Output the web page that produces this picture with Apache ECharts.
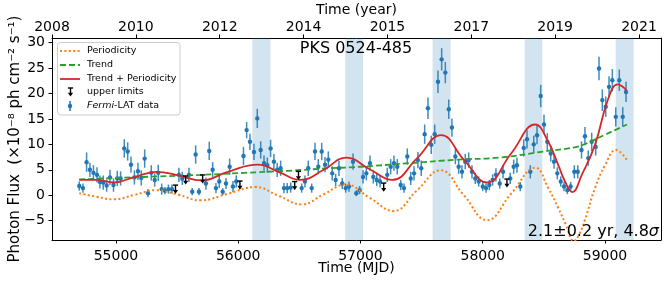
<!DOCTYPE html>
<html><head><meta charset="utf-8">
<script src="https://cdn.jsdelivr.net/npm/echarts@6/dist/echarts.min.js"></script>
<style>html,body{margin:0;padding:0;background:#fff}#c{width:667px;height:282px}</style>
</head><body><div id="c"></div>
<script>
// ---- data ----
const mjd = [54700,54730,54760,54787,54816,54845,54869,54896,54924,54951,
 54980,55011,55038,55068,55096,55123,55151,55180,55207,55235,
 55262,55289,55317,55346,55374,55401,55429,55458,55515,55542,
 55597,55624,55652,55679,55736,55763,55791,55818,55845,55873,
 55900,55930,55957,55984,56043,56069,56096,56129,56156,56184,
 56211,56238,56265,56292,56319,56347,56374,56401,56429,56519,
 56546,56573,56601,56628,56655,56683,56710,56737,56769,56797,
 56824,56851,56879,56906,56939,56966,56993,57021,57048,57078,
 57105,57133,57160,57219,57247,57274,57301,57329,57356,57383,
 57411,57438,57470,57497,57525,57552,57579,57607,57634,57664,
 57694,57722,57748,57776,57803,57830,57857,57885,57912,57939,
 57967,58000,58027,58054,58081,58108,58139,58166,58225,58253,
 58280,58307,58335,58362,58389,58417,58444,58474,58501,58528,
 58556,58583,58610,58638,58665,58692,58719,58749,58777,58808,
 58836,58863,58891,58924,58951,58978,59006,59033,59060,59088,
 59117,59145,59172];
const flux = [1.8,1.4,6.5,5.0,4.4,4.0,2.6,2.5,1.9,3.5,
 2.0,3.3,3.3,9.2,8.6,6.0,3.5,4.7,3.4,7.2,
 0.4,4.4,3.0,4.4,1.2,0.9,1.2,1.2,4.0,3.3,
 4.0,0.7,8.0,0.7,2.3,8.7,5.0,1.4,2.7,0.7,
 2.3,5.6,1.7,2.7,7.7,12.8,10.5,8.5,15.1,8.9,
 6.3,5.9,9.2,6.6,5.0,5.3,1.4,1.4,1.5,1.4,
 2.7,5.3,1.4,8.6,5.6,8.6,6.0,7.0,4.3,3.0,
 5.3,2.3,1.4,1.7,6.6,0.4,1.0,3.6,4.3,6.3,
 3.6,3.0,2.7,4.0,5.6,6.3,5.6,2.0,1.4,7.6,
 3.3,4.3,6.9,5.3,12.0,17.1,9.9,12.0,22.3,26.7,
 24.1,16.9,13.3,7.6,5.6,4.6,6.6,6.9,4.6,3.3,
 2.7,1.7,1.4,2.0,3.0,4.0,2.3,4.6,3.3,5.6,
 5.9,1.7,9.3,11.0,4.6,10.0,11.8,19.5,13.9,10.5,
 8.2,6.6,4.3,2.7,1.7,1.0,1.7,4.6,4.6,8.9,
 11.6,7.3,10.5,9.5,24.9,18.7,17.4,21.3,22.6,15.4,
 22.6,15.4,20.3];
const fluxErr = [0.9,0.9,1.9,1.4,1.5,1.5,1.3,1.4,1.2,1.5,
 1.3,1.5,1.4,1.8,1.8,1.6,1.4,1.7,1.5,1.8,
 0.8,1.5,1.3,1.6,1.1,0.7,0.9,0.9,1.4,1.3,
 1.4,0.7,1.8,0.7,1.2,1.8,1.5,1.0,1.3,0.7,
 1.1,1.6,1.1,1.2,1.8,1.6,1.6,1.6,1.9,1.7,
 1.5,1.5,1.7,1.5,1.4,1.5,1.0,1.0,1.0,0.9,
 1.2,1.5,0.9,1.7,1.5,1.7,1.5,1.6,1.4,1.2,
 1.5,1.1,0.9,1.0,1.6,0.6,0.8,1.3,1.4,1.5,
 1.3,1.2,1.2,1.4,1.5,1.5,1.5,1.0,0.9,1.6,
 1.3,1.4,1.6,1.5,1.9,2.1,1.8,1.9,2.2,2.2,
 2.1,1.9,1.8,1.5,1.4,1.3,1.5,1.5,1.3,1.1,
 1.0,0.9,0.9,1.0,1.1,1.3,1.0,1.3,1.1,1.4,
 1.5,0.9,1.7,1.8,1.3,1.7,1.8,2.2,1.9,1.7,
 1.6,1.4,1.2,1.0,0.9,0.8,0.9,1.3,1.3,1.7,
 1.8,1.5,1.8,1.7,2.3,2.1,2.0,2.1,2.2,1.9,
 2.1,1.9,2.0];
const ulMjd  = [55487,55570,55709,56014,56462,56493,57190,58198];
const ulFlux = [1.2,3.0,3.2,2.0,1.9,3.9,1.6,2.4];
const trendMjd = [54700,55000,55350,55700,56050,56400,56750,57000,57400,57800,58140,58500,58750,58840,59000,59100,59180];
const trendVal = [3.1,3.4,3.7,4.0,4.4,4.8,5.3,5.6,6.3,7.0,7.4,8.6,9.4,10.1,11.9,13.0,13.9];
const periodMjd = [54700,54840,54980,55155,55330,55510,55690,55915,56140,56330,56520,56700,56880,57075,57270,57460,57655,57845,58035,58232,58430,58536,58618,58680,58745,58790,58836,58918,59000,59090,59180];
const periodVal = [0.4,-0.3,-0.8,0.1,1.0,0.1,-1.0,0.3,1.6,-0.1,-1.8,0.2,2.1,-0.5,-3.1,0.9,4.9,0.0,-4.9,0.3,5.4,1.4,-2.5,-5.8,-9.0,-7.6,-4.8,1.4,5.9,8.9,6.9];
const sumMjd = [54700,54840,54980,55155,55330,55510,55700,55915,56160,56330,56510,56700,56885,57075,57260,57460,57660,57845,58035,58232,58430,58536,58618,58673,58733,58810,58918,59027,59104,59177];
const sumVal = [3.0,3.0,2.5,3.6,4.6,3.9,2.9,4.6,6.0,4.6,3.0,5.0,7.4,5.1,3.0,7.2,11.8,7.0,2.5,8.2,13.9,10.5,5.9,2.7,0.6,4.0,9.9,19.0,21.8,20.6];
const bandStart = [56116,56875,57590,58343,59087];
const bandEnd   = [56263,57021,57737,58487,59234];
const xTicks = [55000,56000,57000,58000,59000];
const yTicks = [-5,0,5,10,15,20,25,30];
const yearTickPos = [0,1,2,3,4,5,6,7];
const yearLabels = ['2008','2010','2012','2014','2015','2017','2019','2021'];

// ---- chart ----
const FONT = 'DejaVu Sans';
const BLUE = '#1f77b4';
const pairs = (xs, ys) => xs.map((x, i) => [x, ys[i]]);
const minus = v => v < 0 ? '\u2212' + (-v) : String(v);
const chart = echarts.init(document.getElementById('c'), null, {renderer: 'canvas'});

const ulShape = (x, y, z) => [
  {type:'line', z:z, shape:{x1:x-2.6,y1:y-4,x2:x+2.6,y2:y-4}, style:{stroke:'#000', lineWidth:1.4}},
  {type:'line', z:z, shape:{x1:x,y1:y-4,x2:x,y2:y+1.5}, style:{stroke:'#000', lineWidth:1.4}},
  {type:'polygon', z:z, shape:{points:[[x-2.6,y+0.8],[x+2.6,y+0.8],[x,y+4.6]]}, style:{fill:'#000'}}
];

const axisCommon = {
  axisLine: {show:true, onZero:false, lineStyle:{color:'#000', width:1}},
  splitLine: {show:false},
  nameMoveOverlap: false
};

const option = {
  animation: false,
  textStyle: {fontFamily: FONT},
  grid: {left:52, right:6, top:38, bottom:42, containLabel:false, outerBoundsMode:'none'},
  xAxis: [
    Object.assign({}, axisCommon, {
      type:'value', position:'bottom', min:54477, max:59458,
      axisTick:{show:true, length:3.5, customValues:xTicks, lineStyle:{color:'#000'}},
      axisLabel:{customValues:xTicks, color:'#000', fontSize:14, margin:9, fontFamily:FONT,
        formatter: v => String(v)},
      name:'Time (MJD)', nameLocation:'middle', nameGap:21,
      nameTextStyle:{fontSize:14, color:'#000', fontFamily:FONT}
    }),
    Object.assign({}, axisCommon, {
      type:'value', position:'top', min:0, max:7.262,
      axisTick:{show:true, length:3.5, customValues:yearTickPos, lineStyle:{color:'#000'}},
      axisLabel:{customValues:yearTickPos, color:'#000', fontSize:14, margin:4, fontFamily:FONT,
        formatter: v => yearLabels[Math.round(v)]},
      name:'Time (year)', nameLocation:'middle', nameGap:21,
      nameTextStyle:{fontSize:14, color:'#000', fontFamily:FONT}
    })
  ],
  yAxis: [
    Object.assign({}, axisCommon, {
      type:'value', position:'left', min:-8.8, max:30.9,
      axisTick:{show:true, length:3.5, customValues:yTicks, lineStyle:{color:'#000'}},
      axisLabel:{customValues:yTicks, color:'#000', fontSize:14, margin:7, fontFamily:FONT, formatter: minus},
      name:'Photon Flux  (\u00d710\u207b\u2078 ph cm\u207b\u00b2 s\u207b\u00b9)',
      nameLocation:'middle', nameGap:29,
      nameTextStyle:{fontSize:15, color:'#000', fontFamily:FONT}
    }),
    Object.assign({}, axisCommon, {
      type:'value', position:'right', min:-8.8, max:30.9,
      axisTick:{show:false}, axisLabel:{show:false}
    })
  ],
  series: [
    { // shaded windows
      type:'custom', xAxisIndex:0, yAxisIndex:0, z:1, silent:true,
      data: bandStart.map((s, i) => [s, bandEnd[i]]),
      encode:{x:[0,1]},
      renderItem: (params, api) => {
        const a = api.coord([api.value(0), 0])[0];
        const b = api.coord([api.value(1), 0])[0];
        const cs = params.coordSys;
        return {type:'rect', shape:{x:a, y:cs.y, width:b-a, height:cs.height},
          style:{fill:'rgba(31,119,180,0.2)'}};
      }
    },
    { // Fermi-LAT data with error bars
      type:'custom', xAxisIndex:0, yAxisIndex:0, z:2,
      data: mjd.map((m, i) => [m, flux[i], fluxErr[i]]),
      encode:{x:0, y:1},
      renderItem: (params, api) => {
        const x = api.value(0), y = api.value(1), e = api.value(2);
        const lo = api.coord([x, y - e]), hi = api.coord([x, y + e]), c = api.coord([x, y]);
        return {type:'group', children:[
          {type:'line', shape:{x1:lo[0],y1:lo[1],x2:hi[0],y2:hi[1]}, style:{stroke:BLUE, lineWidth:1.5, opacity:0.85}},
          {type:'circle', shape:{cx:c[0], cy:c[1], r:2.2}, style:{fill:BLUE}}
        ]};
      }
    },
    {
      name:'Periodicity', type:'line', z:3, smooth:0.45, showSymbol:false,
      data: pairs(periodMjd, periodVal),
      lineStyle:{color:'#ff7f0e', width:2, type:[2,2.4]}
    },
    {
      name:'Trend', type:'line', z:3, smooth:0.45, showSymbol:false,
      data: pairs(trendMjd, trendVal),
      lineStyle:{color:'#2ca02c', width:1.8, type:[6,3]}
    },
    {
      name:'Trend + Periodicity', type:'line', z:4, smooth:0.45, showSymbol:false,
      data: pairs(sumMjd, sumVal),
      lineStyle:{color:'#d62728', width:1.8}
    },
    { // upper limits
      type:'custom', xAxisIndex:0, yAxisIndex:0, z:5,
      data: pairs(ulMjd, ulFlux),
      encode:{x:0, y:1},
      renderItem: (params, api) => {
        const p = api.coord([api.value(0), api.value(1)]);
        return {type:'group', children: ulShape(p[0], p[1], 0)};
      }
    }
  ],
  graphic: [
    {type:'rect', z:100, shape:{x:57.5, y:42.5, width:122.5, height:72.5, r:3},
      style:{fill:'rgba(255,255,255,0.85)', stroke:'#cccccc', lineWidth:1}},
    {type:'line', z:101, shape:{x1:60,y1:51,x2:80,y2:51}, style:{stroke:'#ff7f0e', lineWidth:2, lineDash:[2,2.4]}},
    {type:'line', z:101, shape:{x1:60,y1:65,x2:80,y2:65}, style:{stroke:'#2ca02c', lineWidth:1.8, lineDash:[6,3]}},
    {type:'line', z:101, shape:{x1:60,y1:79,x2:80,y2:79}, style:{stroke:'#d62728', lineWidth:1.8}}
  ].concat(ulShape(70.5, 92, 101)).concat([
    {type:'line', z:101, shape:{x1:70,y1:101,x2:70,y2:111}, style:{stroke:BLUE, lineWidth:1.5}},
    {type:'circle', z:101, shape:{cx:70, cy:106, r:2.2}, style:{fill:BLUE}},
    {type:'text', z:101, x:87, y:51, style:{text:'Periodicity', fontSize:9.5, fontFamily:FONT, fill:'#000', verticalAlign:'middle'}},
    {type:'text', z:101, x:87, y:65, style:{text:'Trend', fontSize:9.5, fontFamily:FONT, fill:'#000', verticalAlign:'middle'}},
    {type:'text', z:101, x:87, y:79, style:{text:'Trend + Periodicity', fontSize:9.5, fontFamily:FONT, fill:'#000', verticalAlign:'middle'}},
    {type:'text', z:101, x:87, y:92, style:{text:'upper limits', fontSize:9.5, fontFamily:FONT, fill:'#000', verticalAlign:'middle'}},
    {type:'text', z:101, x:87, y:106, style:{text:'{i|Fermi}-LAT data', fontSize:9.5, fontFamily:FONT, fill:'#000', verticalAlign:'middle',
      rich:{i:{fontStyle:'italic', fontSize:9.5, fontFamily:FONT, fill:'#000'}}}},
    {type:'text', z:101, x:356, y:49, style:{text:'PKS 0524-485', fontSize:16, fontFamily:FONT, fill:'#000', align:'center', verticalAlign:'middle'}},
    {type:'text', z:101, x:659, y:232, style:{text:'2.1\u00b10.2 yr, 4.8{i|\u03c3}', fontSize:16, fontFamily:FONT, fill:'#000', align:'right', verticalAlign:'middle',
      rich:{i:{fontStyle:'italic', fontSize:16, fontFamily:FONT, fill:'#000'}}}}
  ])
};
chart.setOption(option);
</script>
</body></html>
